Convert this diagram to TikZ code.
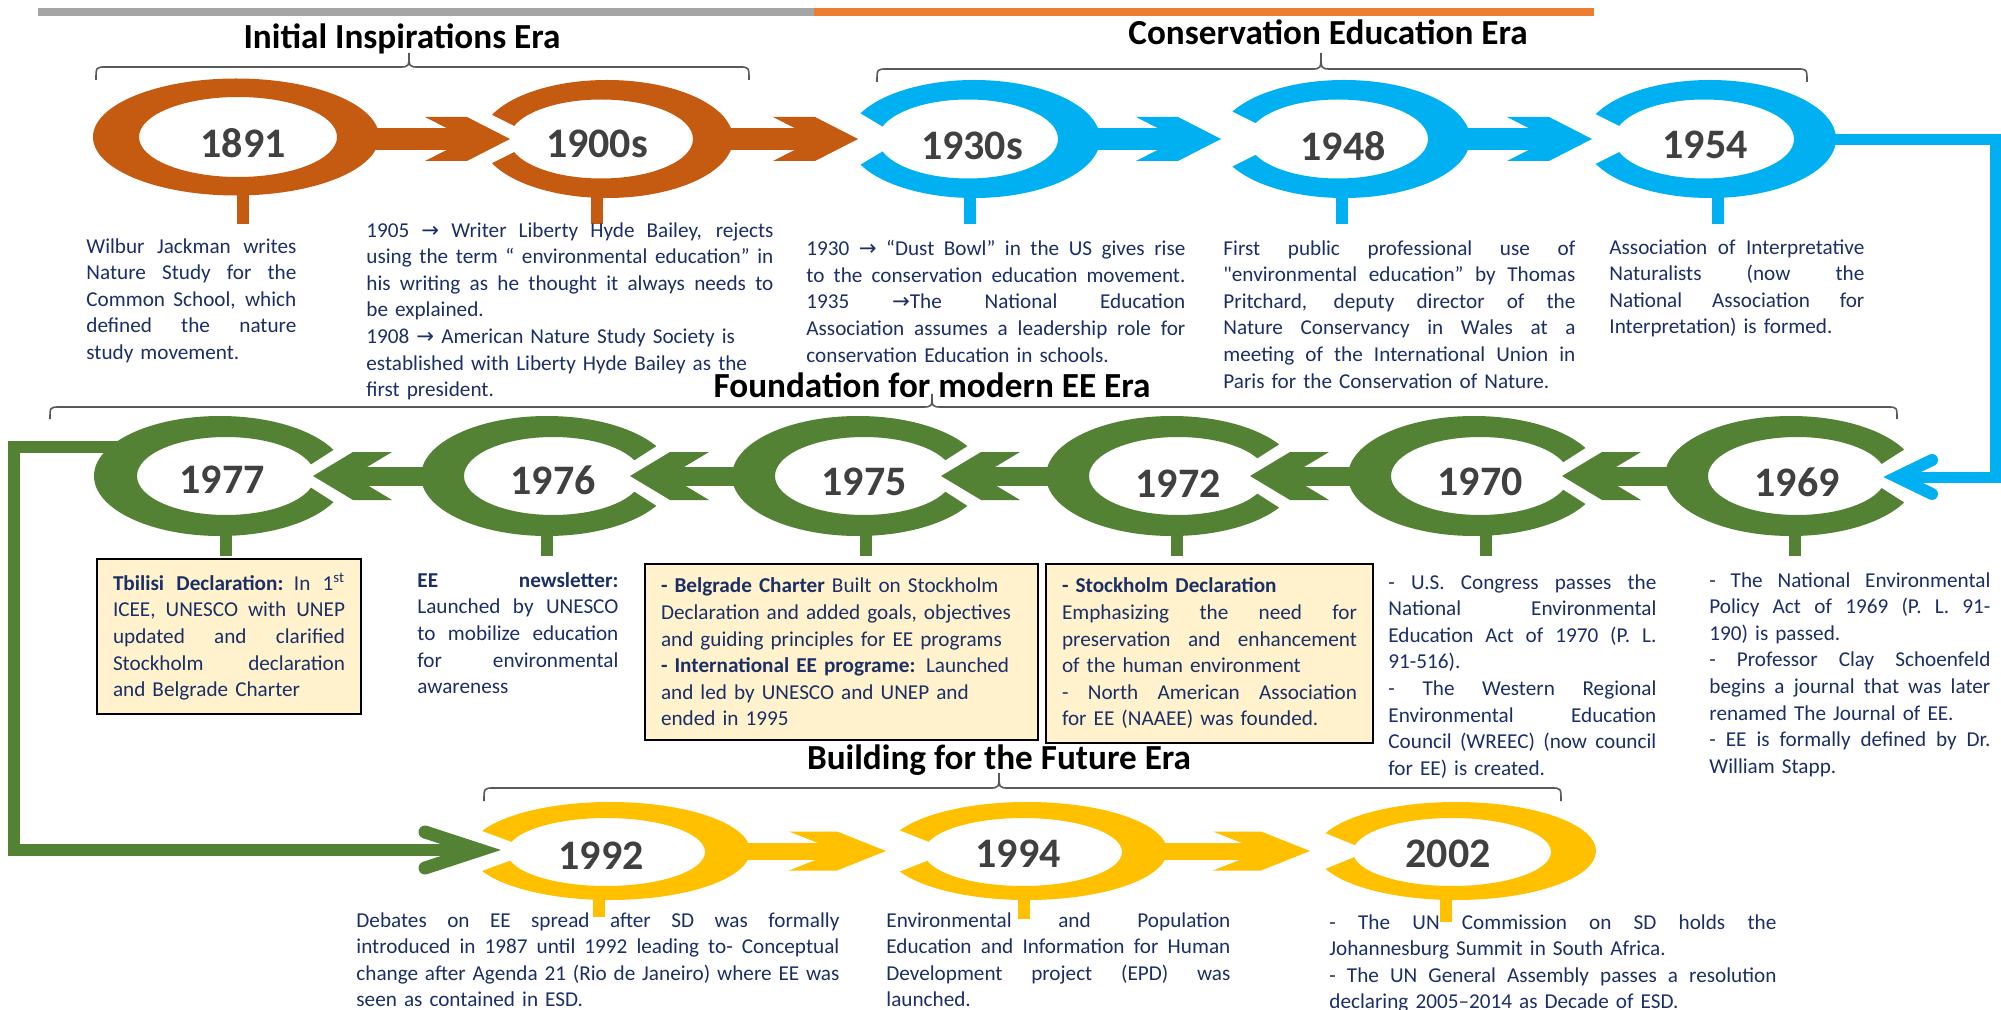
\documentclass[tikz,border=0pt]{standalone}
\usepackage{fontspec}
\setmainfont{Carlito}[Ligatures=TeXOff]
\newfontfamily\arrowfont{DejaVu Sans}
\usepackage{tikz}

\definecolor{eraorange}{HTML}{C55A11}
\definecolor{erablue}{HTML}{00B0F0}
\definecolor{eragreen}{HTML}{548235}
\definecolor{erayellow}{HTML}{FFC000}
\definecolor{notetext}{HTML}{1B2F66}
\definecolor{yeartext}{HTML}{404040}
\definecolor{notefill}{HTML}{FFF2CC}
\definecolor{bracegray}{HTML}{595959}
\definecolor{bargray}{HTML}{A5A5A5}
\definecolor{barorange}{HTML}{ED7D31}

\newcommand\notewidth{\hsize}
\newcommand\jl[1]{{\spaceskip=0.23em plus 1fil minus 0.05em\relax\makebox[\notewidth][s]{#1}}}
\newcommand\yrarrow{{\arrowfont →}}

\begin{document}
\begin{tikzpicture}[x=0.5pt, y=-0.5pt,
        year/.style={font=\fontsize{21}{24}\selectfont\bfseries, text=yeartext, inner sep=0pt},
        era/.style={font=\fontsize{17.6}{20}\selectfont\bfseries, anchor=base, inner sep=0pt},
        note/.style={font=\fontsize{10.6}{13.3}\selectfont, text=notetext, anchor=north west, align=left, inner sep=0pt},
        notew/.style={text width=#1, execute at begin node={\def\notewidth{#1}}},
        notebox/.style={draw=black, line width=1pt, fill=notefill, inner xsep=8pt, inner ysep=7pt},
        bracket/.style={draw=bracegray, line width=0.8pt},
        ring/.style={even odd rule}]
            \useasboundingbox (0,0) rectangle (2001,1010);
            \fill[bargray] (38,8) rectangle (814,16);
            \fill[barorange] (814,8) rectangle (1594,16);

            \draw[bracket] (96,80) .. controls (96,67) .. (106,67) -- (399,67) .. controls (409,67) .. (409,53) .. controls (409,67) .. (419,67) -- (739,67) .. controls (749,67) .. (749,80);
            \draw[bracket] (877,82) .. controls (877,69) .. (887,69) -- (1311,69) .. controls (1321,69) .. (1321,53) .. controls (1321,69) .. (1331,69) -- (1797,69) .. controls (1807,69) .. (1807,82);
            \draw[bracket] (50,419) .. controls (50,407) .. (60,407) -- (922,407) .. controls (932,407) .. (932,394) .. controls (932,407) .. (942,407) -- (1887,407) .. controls (1897,407) .. (1897,419);
            \draw[bracket] (484,801) .. controls (484,788) .. (494,788) -- (989,788) .. controls (999,788) .. (999,773) .. controls (999,788) .. (1009,788) -- (1551,788) .. controls (1561,788) .. (1561,801);
            \node[era] (eraI) at (402,49) {Initial Inspirations Era};
            \node[era] (eraC) at (1328,45) {Conservation Education Era};
            \node[era] (eraF) at (932,397) {Foundation for modern EE Era};
            \node[era] (eraB) at (999,769) {Building for the Future Era};

            \fill[eraorange, ring] (236,137) ellipse [x radius=143, y radius=58.5] (238,137) ellipse [x radius=99, y radius=40];
            \fill[eraorange, ring] (607,139) ellipse [x radius=126, y radius=59] (601,139) ellipse [x radius=92, y radius=39.5];
            \fill[erablue, ring] (974,139) ellipse [x radius=126, y radius=59] (968,139) ellipse [x radius=90, y radius=39.5];
            \fill[erablue, ring] (1344,139) ellipse [x radius=126, y radius=59] (1338,139) ellipse [x radius=90, y radius=39.5];
            \fill[erablue, ring] (1710,139) ellipse [x radius=126, y radius=59] (1704,139) ellipse [x radius=90, y radius=39.5];
            \fill[eragreen, ring] (220,476) ellipse [x radius=126, y radius=60] (226,476) ellipse [x radius=89, y radius=39];
            \fill[eragreen, ring] (547,476) ellipse [x radius=126, y radius=60] (553,476) ellipse [x radius=89, y radius=39];
            \fill[eragreen, ring] (858,476) ellipse [x radius=126, y radius=60] (864,476) ellipse [x radius=89, y radius=39];
            \fill[eragreen, ring] (1172,476) ellipse [x radius=126, y radius=60] (1178,476) ellipse [x radius=89, y radius=39];
            \fill[eragreen, ring] (1474,476) ellipse [x radius=126, y radius=60] (1480,476) ellipse [x radius=89, y radius=39];
            \fill[eragreen, ring] (1791,476) ellipse [x radius=126, y radius=60] (1797,476) ellipse [x radius=89, y radius=39];
            \fill[erayellow, ring] (610,851) ellipse [x radius=140, y radius=49] (606,852) ellipse [x radius=99, y radius=34];
            \fill[erayellow, ring] (1027,851) ellipse [x radius=140, y radius=49] (1023,852) ellipse [x radius=99, y radius=34];
            \fill[erayellow, ring] (1456,851) ellipse [x radius=140, y radius=49] (1452,852) ellipse [x radius=99, y radius=34];

            \fill[white] (540,139) -- ++(-100,-50) -- ++(0,100) -- cycle;
            \fill[white] (903,139) -- ++(-100,-60) -- ++(0,120) -- cycle;
            \fill[white] (1287,139) -- ++(-100,-50) -- ++(0,100) -- cycle;
            \fill[white] (1645,139) -- ++(-100,-50) -- ++(0,100) -- cycle;
            \fill[white] (293,476) -- ++(100,-64) -- ++(0,128) -- cycle;
            \fill[white] (610,476) -- ++(100,-64) -- ++(0,128) -- cycle;
            \fill[white] (921,476) -- ++(100,-64) -- ++(0,128) -- cycle;
            \fill[white] (1230,476) -- ++(100,-64) -- ++(0,128) -- cycle;
            \fill[white] (1542,476) -- ++(100,-64) -- ++(0,128) -- cycle;
            \fill[white] (1863,476) -- ++(100,-64) -- ++(0,128) -- cycle;
            \fill[white] (536,851) -- ++(-130,-48) -- ++(0,96) -- cycle;
            \fill[white] (952,851) -- ++(-130,-51) -- ++(0,102) -- cycle;
            \fill[white] (1369,851) -- ++(-130,-53) -- ++(0,106) -- cycle;

            \fill[eraorange] (372,128) rectangle (470,150);
            \fill[eraorange] (510,139) -- ++(-43,-22) -- ++(-42,0) -- ++(43,22) -- ++(-43,22) -- ++(42,0) -- cycle;
            \fill[eraorange] (727,128) rectangle (818,150);
            \fill[eraorange] (858,139) -- ++(-43,-22) -- ++(-42,0) -- ++(43,22) -- ++(-43,22) -- ++(42,0) -- cycle;
            \fill[erablue] (1094,128) rectangle (1181,150);
            \fill[erablue] (1221,139) -- ++(-43,-22) -- ++(-42,0) -- ++(43,22) -- ++(-43,22) -- ++(42,0) -- cycle;
            \fill[erablue] (1464,128) rectangle (1552,150);
            \fill[erablue] (1592,139) -- ++(-43,-22) -- ++(-42,0) -- ++(43,22) -- ++(-43,22) -- ++(42,0) -- cycle;
            \fill[eragreen] (427,467) rectangle (352,486);
            \fill[eragreen] (313,476) -- ++(40,-24) -- ++(39,0) -- ++(-40,24) -- ++(40,24) -- ++(-39,0) -- cycle;
            \fill[eragreen] (738,467) rectangle (669,486);
            \fill[eragreen] (630,476) -- ++(40,-24) -- ++(39,0) -- ++(-40,24) -- ++(40,24) -- ++(-39,0) -- cycle;
            \fill[eragreen] (1052,467) rectangle (980,486);
            \fill[eragreen] (941,476) -- ++(40,-24) -- ++(39,0) -- ++(-40,24) -- ++(40,24) -- ++(-39,0) -- cycle;
            \fill[eragreen] (1354,467) rectangle (1288,486);
            \fill[eragreen] (1250,476) -- ++(40,-24) -- ++(39,0) -- ++(-40,24) -- ++(40,24) -- ++(-39,0) -- cycle;
            \fill[eragreen] (1671,467) rectangle (1601,486);
            \fill[eragreen] (1562,476) -- ++(40,-24) -- ++(39,0) -- ++(-40,24) -- ++(40,24) -- ++(-39,0) -- cycle;
            \fill[erayellow] (744,843) rectangle (839,860);
            \fill[erayellow] (886,851) -- ++(-49,-19.5) -- ++(-48,0) -- ++(49,19.5) -- ++(-49,19.5) -- ++(48,0) -- cycle;
            \fill[erayellow] (1161,843) rectangle (1263,860);
            \fill[erayellow] (1310,851) -- ++(-49,-19.5) -- ++(-48,0) -- ++(49,19.5) -- ++(-49,19.5) -- ++(48,0) -- cycle;

            \draw[erablue, line width=5.5pt] (1828,140) -| (1995,477) -- (1897,477);
            \draw[erablue, line width=6pt, line cap=round, line join=miter] (1932,460) -- (1897,477) -- (1932,494);
            \draw[eragreen, line width=6pt] (118,447) -| (14,850) -- (480,850);
            \draw[eragreen, line width=6.5pt, line cap=round, line join=miter] (425,832) -- (480,850) -- (425,868);

            \fill[eraorange] (237,190) rectangle (249,224);
            \fill[eraorange] (591,190) rectangle (603,224);
            \fill[erablue] (964,190) rectangle (976,224);
            \fill[erablue] (1336,190) rectangle (1348,224);
            \fill[erablue] (1712,190) rectangle (1724,224);
            \fill[eragreen] (220,528) rectangle (232,556);
            \fill[eragreen] (541,528) rectangle (553,556);
            \fill[eragreen] (860,528) rectangle (872,556);
            \fill[eragreen] (1171,528) rectangle (1183,556);
            \fill[eragreen] (1480,528) rectangle (1492,556);
            \fill[eragreen] (1789,528) rectangle (1801,556);

            \node[year] (y1891) at (243,143) {1891};
            \node[year] (y1900) at (597,144) {1900s};
            \node[year] (y1930) at (972,146) {1930s};
            \node[year] (y1948) at (1343,146) {1948};
            \node[year] (y1954) at (1705,145) {1954};
            \node[year] (y1977) at (222,480) {1977};
            \node[year] (y1976) at (553,480) {1976};
            \node[year] (y1975) at (864,482) {1975};
            \node[year] (y1972) at (1178,484) {1972};
            \node[year] (y1970) at (1480,482) {1970};
            \node[year] (y1969) at (1797,482) {1969};
            \node[year] (y1992) at (601,856) {1992};
            \node[year] (y1994) at (1018,854) {1994};
            \node[year] (y2002) at (1448,854) {2002};

            \node[note, notew=105pt] (t1891) at (86,238) {\jl{Wilbur Jackman writes}\\ \jl{Nature Study for the}\\ \jl{Common School, which}\\ \jl{defined the nature}\\ study movement.};
            \node[note, notew=203.5pt] (t1900) at (366,222) {\jl{1905 \yrarrow\ Writer Liberty Hyde Bailey, rejects}\\ \jl{using the term “ environmental education” in}\\ \jl{his writing as he thought it always needs to}\\ be explained.\\ 1908 \yrarrow\ American Nature Study Society is\\ established with Liberty Hyde Bailey as the\\ first president.};
            \node[note, notew=189.5pt] (t1930) at (806,240) {\jl{1930 \yrarrow\ “Dust Bowl” in the US gives rise}\\ \jl{to the conservation education movement.}\\ \jl{1935 \yrarrow The National Education}\\ \jl{Association assumes a leadership role for}\\ conservation Education in schools.};
            \node[note, notew=176pt] (t1948) at (1223,240) {\jl{First public professional use of}\\ \jl{"environmental education” by Thomas}\\ \jl{Pritchard, deputy director of the}\\ \jl{Nature Conservancy in Wales at a}\\ \jl{meeting of the International Union in}\\ Paris for the Conservation of Nature.};
            \node[note, notew=127.5pt] (t1954) at (1609,239) {\jl{Association of Interpretative}\\ \jl{Naturalists (now the}\\ \jl{National Association for}\\ Interpretation) is formed.};

            \node[note, notebox, notew=116pt] (t1977) at (96,558) {\jl{\textbf{Tbilisi Declaration:} In 1\textsuperscript{st}}\\ \jl{ICEE, UNESCO with UNEP}\\ \jl{updated and clarified}\\ \jl{Stockholm declaration}\\ and Belgrade Charter};
            \node[note, notew=100.5pt] (t1976) at (417,572) {\jl{\textbf{EE newsletter:}}\\ \jl{Launched by UNESCO}\\ \jl{to mobilize education}\\ \jl{for environmental}\\ awareness};
            \node[note, notebox, notew=180.5pt] (t1975) at (644,563) {\textbf{- Belgrade Charter} Built on Stockholm\\ Declaration and added goals, objectives\\ and guiding principles for EE programs\\ \textbf{- International EE programe:} Launched\\ and led by UNESCO and UNEP and\\ ended in 1995};
            \node[note, notebox, notew=147.5pt] (t1972) at (1045,563) {\textbf{- Stockholm Declaration}\\ \jl{Emphasizing the need for}\\ \jl{preservation and enhancement}\\ of the human environment\\ \jl{- North American Association}\\ for EE (NAAEE) was founded.};
            \node[note, notew=134pt] (t1970) at (1388,574) {\jl{- U.S. Congress passes the}\\ \jl{National Environmental}\\ \jl{Education Act of 1970 (P. L.}\\ 91-516).\\ \jl{- The Western Regional}\\ \jl{Environmental Education}\\ \jl{Council (WREEC) (now council}\\ for EE) is created.};
            \node[note, notew=140.5pt] (t1969) at (1709,572) {\jl{- The National Environmental}\\ \jl{Policy Act of 1969 (P. L. 91-}\\ 190) is passed.\\ \jl{- Professor Clay Schoenfeld}\\ \jl{begins a journal that was later}\\ renamed The Journal of EE.\\ \jl{- EE is formally defined by Dr.}\\ William Stapp.};

            \node[note, notew=241.5pt] (t1992) at (356,912) {\jl{Debates on EE spread after SD was formally}\\ \jl{introduced in 1987 until 1992 leading to- Conceptual}\\ \jl{change after Agenda 21 (Rio de Janeiro) where EE was}\\ seen as contained in ESD.};
            \node[note, notew=172pt] (t1994) at (886,912) {\jl{Environmental and Population}\\ \jl{Education and Information for Human}\\ \jl{Development project (EPD) was}\\ launched.};
            \node[note, notew=223.5pt] (t2002) at (1329,914) {\jl{- The UN Commission on SD holds the}\\ Johannesburg Summit in South Africa.\\ \jl{- The UN General Assembly passes a resolution}\\ declaring 2005–2014 as Decade of ESD.};

            \fill[erayellow] (593,893) rectangle (605,917);
            \fill[erayellow] (1018,890) rectangle (1030,919);
            \fill[erayellow] (1440,890) rectangle (1452,922);
        \end{tikzpicture}
\end{document}
